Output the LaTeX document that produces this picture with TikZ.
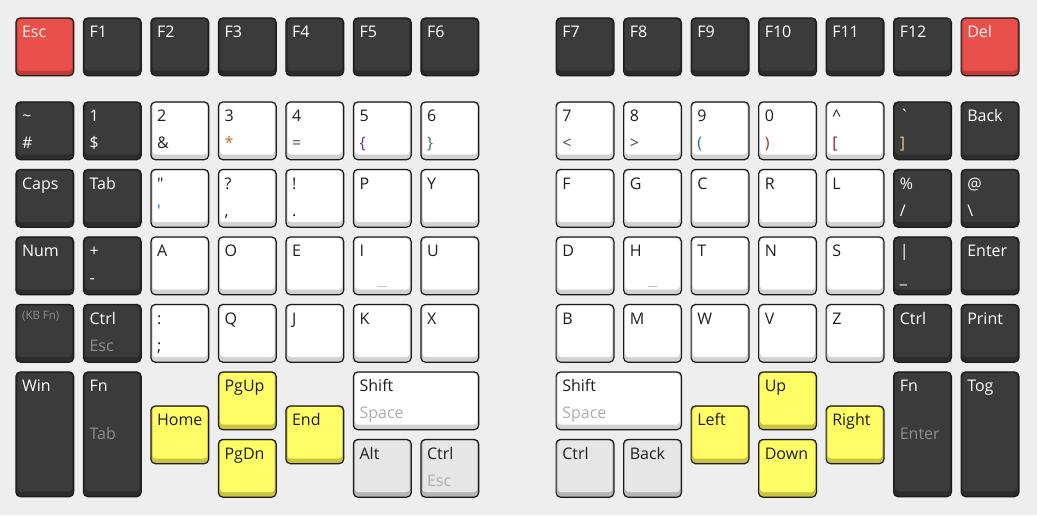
\documentclass[tikz,border=0pt]{standalone}
\usepackage{fontspec}
\setmainfont{Open Sans}
\newfontfamily\rawfont{Open Sans}
\definecolor{bg}{HTML}{EEEEEE}
\definecolor{keyline}{HTML}{1C1C1C}
\definecolor{darkface}{HTML}{3B3B3B}
\definecolor{darkside}{HTML}{2C2C2C}
\definecolor{darktext}{HTML}{FFFFFF}
\definecolor{darksub}{HTML}{FFFFFF}
\definecolor{redface}{HTML}{E9504B}
\definecolor{redside}{HTML}{C43A35}
\definecolor{redtext}{HTML}{FFF4F4}
\definecolor{redsub}{HTML}{FFFFFF}
\definecolor{whiteface}{HTML}{FFFFFF}
\definecolor{whiteside}{HTML}{D2D2D2}
\definecolor{whitetext}{HTML}{1E1E1E}
\definecolor{whitesub}{HTML}{1E1E1E}
\definecolor{yellowface}{HTML}{FFFC66}
\definecolor{yellowside}{HTML}{C9C43E}
\definecolor{yellowtext}{HTML}{1E1E1E}
\definecolor{yellowsub}{HTML}{1E1E1E}
\definecolor{grayface}{HTML}{E6E6E6}
\definecolor{grayside}{HTML}{B6B6B6}
\definecolor{graytext}{HTML}{1E1E1E}
\definecolor{graysub}{HTML}{1E1E1E}
\definecolor{subdim}{HTML}{8E8E8E}
\definecolor{sublight}{HTML}{ADADAD}
\definecolor{homegray}{HTML}{C4C4C4}
\definecolor{cOrange}{HTML}{C0662B}
\definecolor{cPurple}{HTML}{6A2C91}
\definecolor{cGreen}{HTML}{2E7D4F}
\definecolor{cBlue}{HTML}{1F6FB5}
\definecolor{cRed}{HTML}{A33A26}
\definecolor{cMaroon}{HTML}{8E1F4A}
\definecolor{cGold}{HTML}{E3C77A}
\definecolor{cDim}{HTML}{4A4A4A}
\tikzset{
  keybase/.style={draw=keyline, line width=1.2pt, rounded corners=4.5pt,
    inner sep=0pt, outer sep=0pt, anchor=north west},
  lbl/.style={inner sep=0pt, anchor=base west, font=\fontsize{16}{16}\selectfont},
  smalllbl/.style={inner sep=0pt, anchor=base west, font=\fontsize{11.5}{11.5}\selectfont, text=subdim},
  homing/.style={line width=1.4pt, draw=homegray},
}
% #1 name, #2 x, #3 y, #4 w, #5 h, #6 style, #7 main, #8 sub, #9 sub offset
\newcommand\kkey[9]{%
  \node[keybase, fill=#6side, minimum width={#4-1.2}, minimum height={#5-1.2}] (#1) at ({#2+0.6},{#3+0.6}) {};
  \fill[#6face, rounded corners=3.5pt] ([xshift=1.6pt,yshift=-1.3pt]#1.north west) rectangle ([xshift=-1.6pt,yshift=5pt]#1.south east);
  \node[lbl, text=#6text] (#1-m) at ([xshift=6pt,yshift=-19.8pt]#1.north west) {#7};
  \node[lbl, text=#6sub] (#1-s) at ([xshift=6pt,yshift=-#9pt]#1.north west) {#8};
}
\begin{document}
\begin{tikzpicture}[x=1pt,y=-1pt]
\useasboundingbox (0,0) rectangle (1037,515);
\fill[bg] (0,0) rectangle (1037,515);
% top row
\kkey{esc}{15.3}{17.3}{59}{59}{red}{Esc}{}{47}
\kkey{f1}{82.8}{17.3}{59}{59}{dark}{F1}{}{47}
\kkey{f2}{150.3}{17.3}{59}{59}{dark}{F2}{}{47}
\kkey{f3}{217.8}{17.3}{59}{59}{dark}{F3}{}{47}
\kkey{f4}{285.3}{17.3}{59}{59}{dark}{F4}{}{47}
\kkey{f5}{352.8}{17.3}{59}{59}{dark}{F5}{}{47}
\kkey{f6}{420.3}{17.3}{59}{59}{dark}{F6}{}{47}
\kkey{f7}{555.5}{17.3}{59}{59}{dark}{F7}{}{47}
\kkey{f8}{623}{17.3}{59}{59}{dark}{F8}{}{47}
\kkey{f9}{690.5}{17.3}{59}{59}{dark}{F9}{}{47}
\kkey{f10}{758}{17.3}{59}{59}{dark}{F10}{}{47}
\kkey{f11}{825.5}{17.3}{59}{59}{dark}{F11}{}{47}
\kkey{f12}{893}{17.3}{59}{59}{dark}{F12}{}{47}
\kkey{del}{960.5}{17.3}{59}{59}{red}{Del}{}{47}
% number row
\kkey{L10}{15.3}{101.3}{59}{59}{dark}{\char`\~}{\#}{47}
\kkey{L11}{82.8}{101.3}{59}{59}{dark}{1}{\$}{47}
\kkey{L12}{150.3}{101.3}{59}{59}{white}{2}{\&}{47}
\kkey{L13}{217.8}{101.3}{59}{59}{white}{3}{\textcolor{cOrange}{*}}{47}
\kkey{L14}{285.3}{101.3}{59}{59}{white}{4}{\textcolor{cDim}{=}}{47}
\kkey{L15}{352.8}{101.3}{59}{59}{white}{5}{\textcolor{cPurple}{\{}}{47}
\kkey{L16}{420.3}{101.3}{59}{59}{white}{6}{\textcolor{cGreen}{\}}}{47}
\kkey{R10}{555.5}{101.3}{59}{59}{white}{7}{\textcolor{cDim}{<}}{47}
\kkey{R11}{623}{101.3}{59}{59}{white}{8}{\textcolor{cDim}{>}}{47}
\kkey{R12}{690.5}{101.3}{59}{59}{white}{9}{\textcolor{cBlue}{(}}{47}
\kkey{R13}{758}{101.3}{59}{59}{white}{0}{\textcolor{cRed}{)}}{47}
\kkey{R14}{825.5}{101.3}{59}{59}{white}{\char`\^}{\textcolor{cMaroon}{[}}{47}
\kkey{R15}{893}{101.3}{59}{59}{dark}{{\rawfont `}}{\textcolor{cGold}{]}}{47}
\kkey{R16}{960.5}{101.3}{59}{59}{dark}{Back}{}{47}
% row 2
\kkey{L20}{15.3}{168.8}{59}{59}{dark}{Caps}{}{47}
\kkey{L21}{82.8}{168.8}{59}{59}{dark}{Tab}{}{47}
\kkey{L22}{150.3}{168.8}{59}{59}{white}{{\rawfont "}}{\textcolor{cBlue}{\rawfont '}}{47}
\kkey{L23}{217.8}{168.8}{59}{59}{white}{?}{,}{47}
\kkey{L24}{285.3}{168.8}{59}{59}{white}{!}{.}{47}
\kkey{L25}{352.8}{168.8}{59}{59}{white}{P}{}{47}
\kkey{L26}{420.3}{168.8}{59}{59}{white}{Y}{}{47}
\kkey{R20}{555.5}{168.8}{59}{59}{white}{F}{}{47}
\kkey{R21}{623}{168.8}{59}{59}{white}{G}{}{47}
\kkey{R22}{690.5}{168.8}{59}{59}{white}{C}{}{47}
\kkey{R23}{758}{168.8}{59}{59}{white}{R}{}{47}
\kkey{R24}{825.5}{168.8}{59}{59}{white}{L}{}{47}
\kkey{R25}{893}{168.8}{59}{59}{dark}{\%}{/}{47}
\kkey{R26}{960.5}{168.8}{59}{59}{dark}{@}{\char`\\}{47}
% row 3
\kkey{L30}{15.3}{236.3}{59}{59}{dark}{Num}{}{47}
\kkey{L31}{82.8}{236.3}{59}{59}{dark}{+}{-}{47}
\kkey{L32}{150.3}{236.3}{59}{59}{white}{A}{}{47}
\kkey{L33}{217.8}{236.3}{59}{59}{white}{O}{}{47}
\kkey{L34}{285.3}{236.3}{59}{59}{white}{E}{}{47}
\kkey{L35}{352.8}{236.3}{59}{59}{white}{I}{}{47}
\kkey{L36}{420.3}{236.3}{59}{59}{white}{U}{}{47}
\kkey{R30}{555.5}{236.3}{59}{59}{white}{D}{}{47}
\kkey{R31}{623}{236.3}{59}{59}{white}{H}{}{47}
\kkey{R32}{690.5}{236.3}{59}{59}{white}{T}{}{47}
\kkey{R33}{758}{236.3}{59}{59}{white}{N}{}{47}
\kkey{R34}{825.5}{236.3}{59}{59}{white}{S}{}{47}
\kkey{R35}{893}{236.3}{59}{59}{dark}{|}{\_}{47}
\kkey{R36}{960.5}{236.3}{59}{59}{dark}{Enter}{}{47}
\draw[homing] ([xshift=-5pt,yshift=-49.5pt]L35.north) -- ([xshift=5pt,yshift=-49.5pt]L35.north);
\draw[homing] ([xshift=-5pt,yshift=-49.5pt]R31.north) -- ([xshift=5pt,yshift=-49.5pt]R31.north);
% row 4
\kkey{L40}{15.3}{303.8}{59}{59}{dark}{}{}{47}
\node[smalllbl] (kbfn) at ([xshift=6pt,yshift=-15pt]L40.north west) {(KB Fn)};
\kkey{L41}{82.8}{303.8}{59}{59}{dark}{Ctrl}{\textcolor{subdim}{Esc}}{47}
\kkey{L42}{150.3}{303.8}{59}{59}{white}{:}{;}{47}
\kkey{L43}{217.8}{303.8}{59}{59}{white}{Q}{}{47}
\kkey{L44}{285.3}{303.8}{59}{59}{white}{J}{}{47}
\kkey{L45}{352.8}{303.8}{59}{59}{white}{K}{}{47}
\kkey{L46}{420.3}{303.8}{59}{59}{white}{X}{}{47}
\kkey{R40}{555.5}{303.8}{59}{59}{white}{B}{}{47}
\kkey{R41}{623}{303.8}{59}{59}{white}{M}{}{47}
\kkey{R42}{690.5}{303.8}{59}{59}{white}{W}{}{47}
\kkey{R43}{758}{303.8}{59}{59}{white}{V}{}{47}
\kkey{R44}{825.5}{303.8}{59}{59}{white}{Z}{}{47}
\kkey{R45}{893}{303.8}{59}{59}{dark}{Ctrl}{}{47}
\kkey{R46}{960.5}{303.8}{59}{59}{dark}{Print}{}{47}
% thumb cluster left
\kkey{win}{15.3}{371.3}{59}{126}{dark}{Win}{}{47}
\kkey{fnL}{82.8}{371.3}{59}{126}{dark}{Fn}{\textcolor{subdim}{Tab}}{68}
\kkey{home}{150.3}{405.3}{59}{59}{yellow}{Home}{}{47}
\kkey{pgup}{217.8}{371.3}{59}{59}{yellow}{PgUp}{}{47}
\kkey{pgdn}{217.8}{438.8}{59}{59}{yellow}{PgDn}{}{47}
\kkey{end}{285.3}{405.3}{59}{59}{yellow}{End}{}{47}
\kkey{shiftL}{352.8}{371.3}{126.5}{59}{white}{Shift}{\textcolor{sublight}{Space}}{47}
\kkey{alt}{352.8}{438.8}{59}{59}{gray}{Alt}{}{47}
\kkey{ctrlL}{420.3}{438.8}{59}{59}{gray}{Ctrl}{\textcolor{sublight}{Esc}}{47}
% thumb cluster right
\kkey{shiftR}{555.5}{371.3}{126.5}{59}{white}{Shift}{\textcolor{sublight}{Space}}{47}
\kkey{ctrlR}{555.5}{438.8}{59}{59}{gray}{Ctrl}{}{47}
\kkey{backR}{623}{438.8}{59}{59}{gray}{Back}{}{47}
\kkey{left}{690.5}{405.3}{59}{59}{yellow}{Left}{}{47}
\kkey{up}{758}{371.3}{59}{59}{yellow}{Up}{}{47}
\kkey{down}{758}{438.8}{59}{59}{yellow}{Down}{}{47}
\kkey{right}{825.5}{405.3}{59}{59}{yellow}{Right}{}{47}
\kkey{fnR}{893}{371.3}{59}{126}{dark}{Fn}{\textcolor{subdim}{Enter}}{68}
\kkey{tog}{960.5}{371.3}{59}{126}{dark}{Tog}{}{47}
\end{tikzpicture}
\end{document}
